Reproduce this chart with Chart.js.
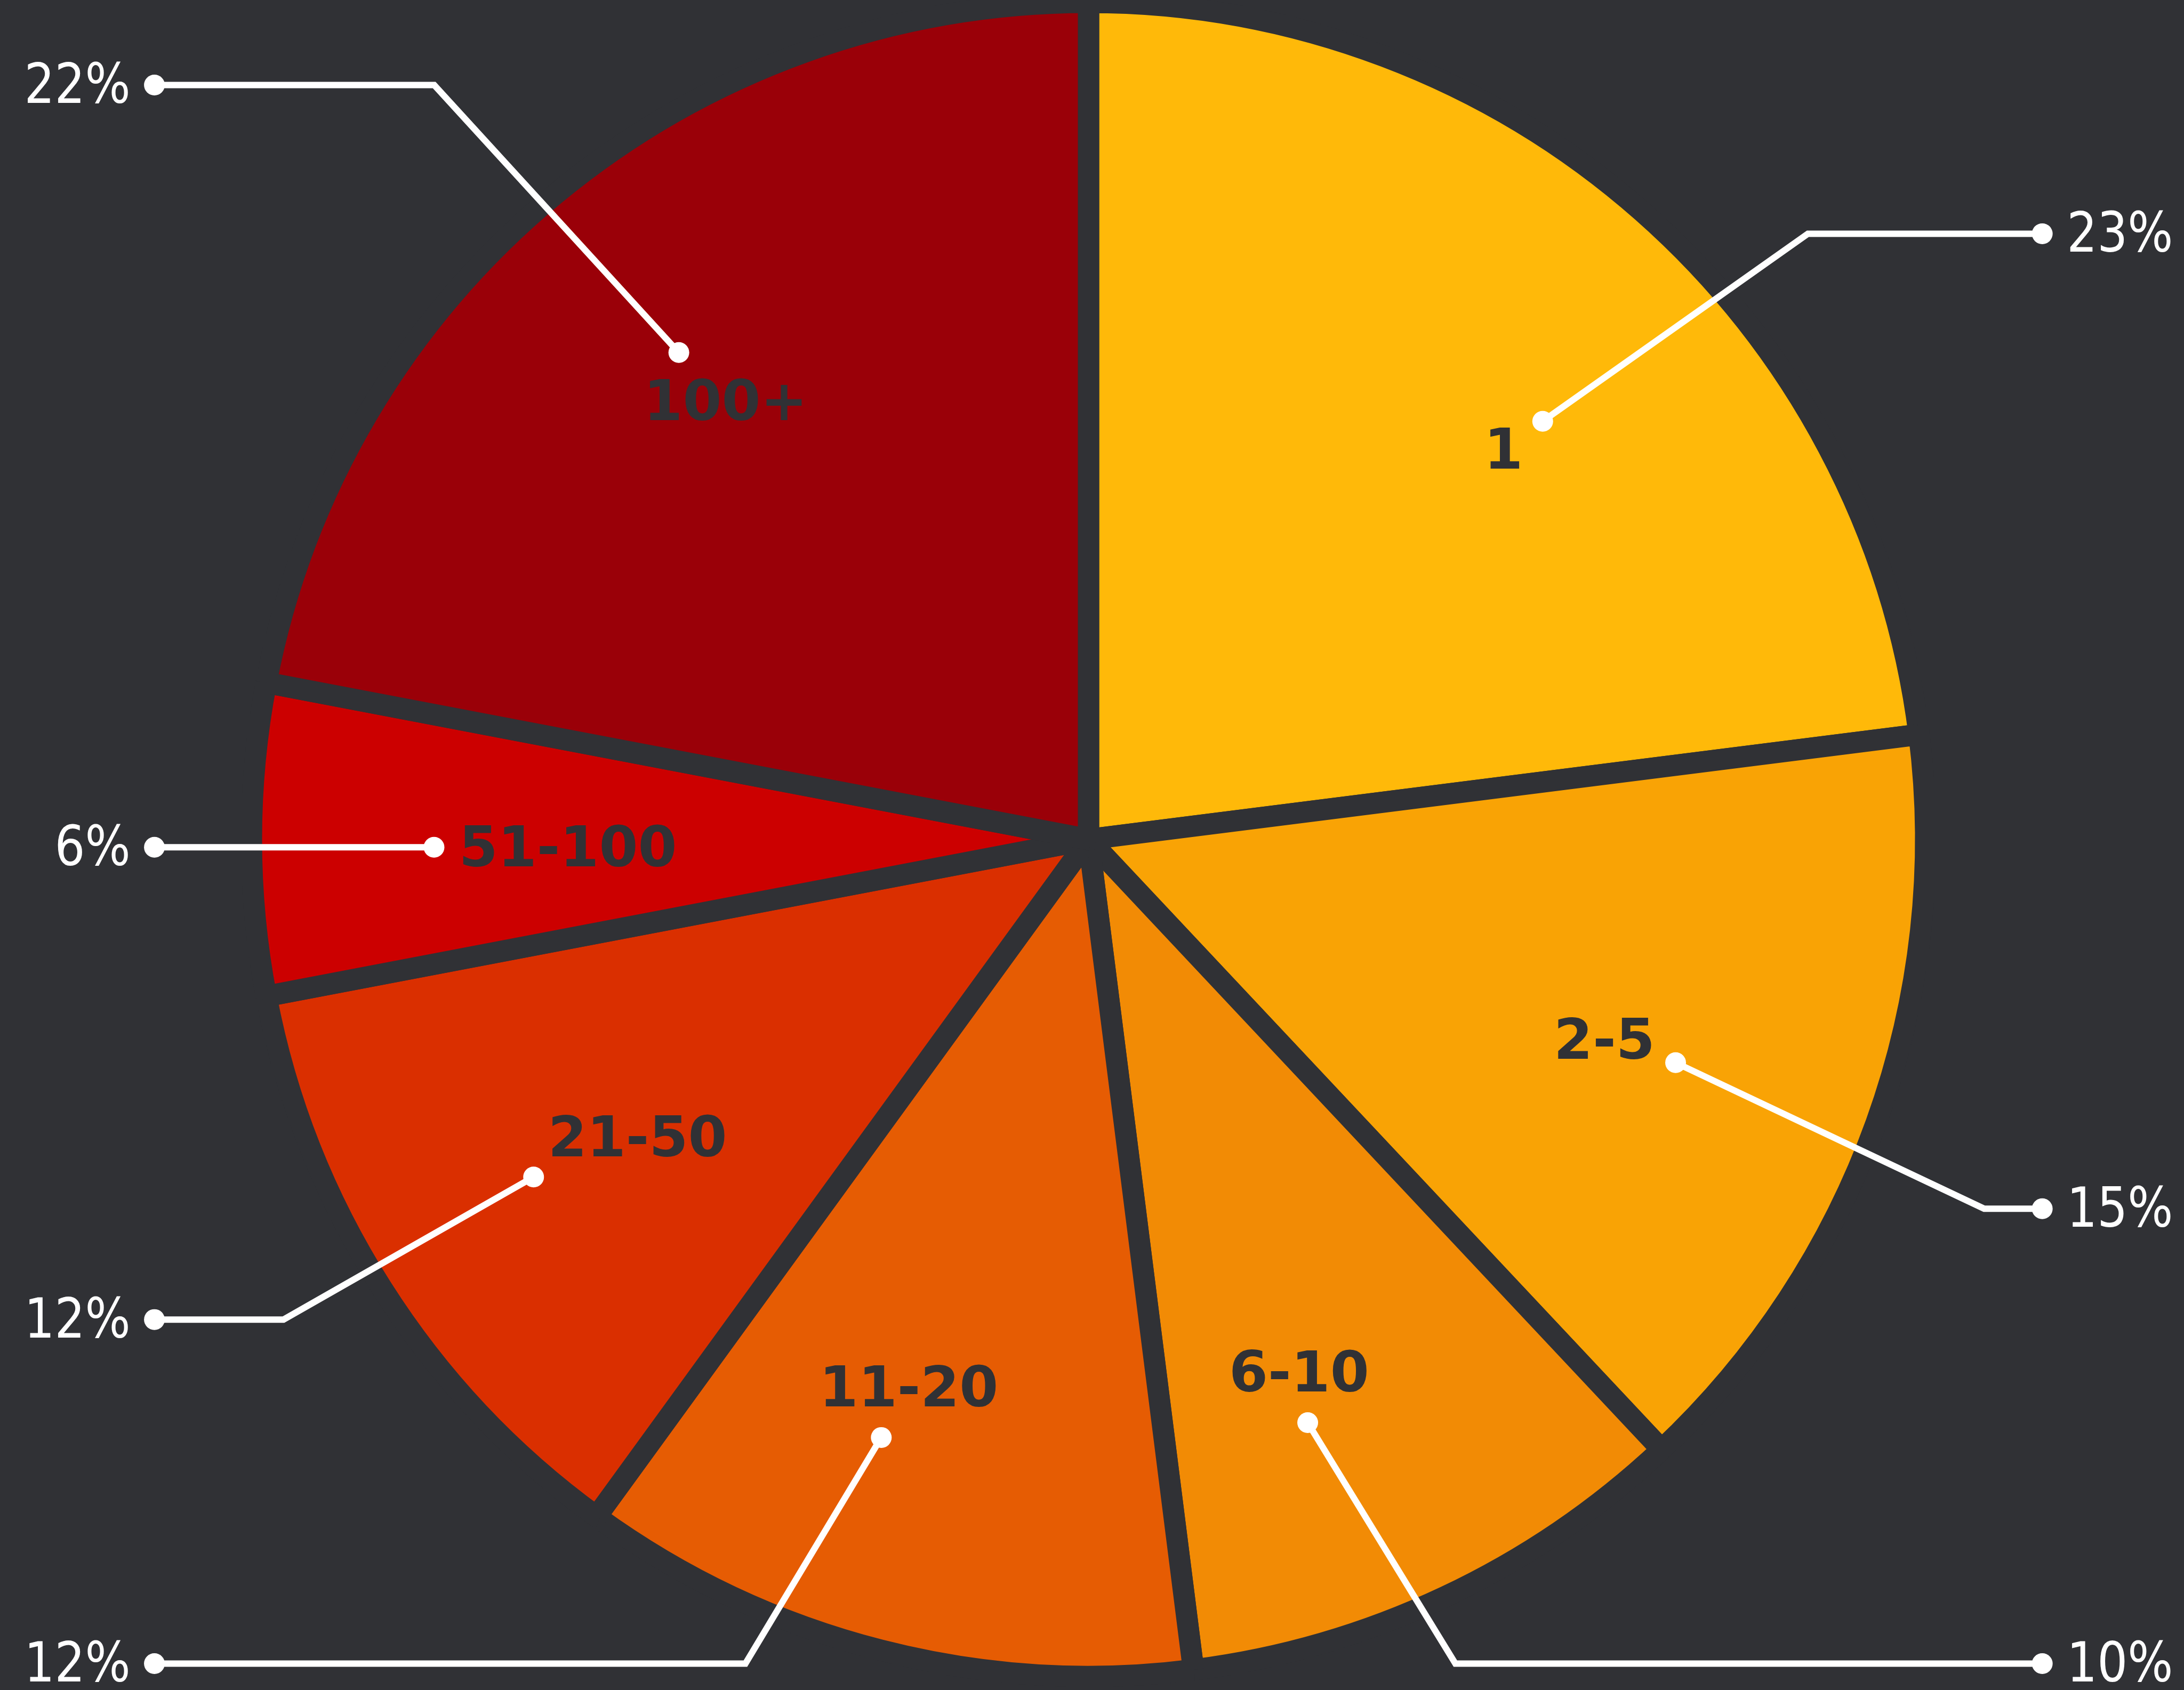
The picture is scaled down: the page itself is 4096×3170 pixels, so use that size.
<!DOCTYPE html>
<html>
<head>
<meta charset="utf-8">
<title>Share by size band</title>
<script src="https://cdn.jsdelivr.net/npm/chart.js@4.4.1/dist/chart.umd.min.js"></script>
<style>
  html, body { margin: 0; padding: 0; background: #303135; overflow: hidden; }
  #chart { display: block; }
</style>
</head>
<body>
<canvas id="chart" width="4096" height="3170"></canvas>
<script>
// size bands and their share (percent)
const categories = ['1', '2-5', '6-10', '11-20', '21-50', '51-100', '100+'];
const shares = [23, 15, 10, 12, 12, 6, 22];
const sliceColors = ['#FFB909', '#F9A305', '#F28B05', '#E65C03', '#DA2F00', '#CC0000', '#9A0008'];

const BG = '#303135';
const GAP = 40;

// hand-placed callouts: dot / tag = [fraction along the slice angle, fraction of radius],
// row = y of the horizontal run (share of height), elbow = x where it bends (share of width)
const callouts = [
  { dot: [0.572, 0.747], tag: [0.564, 0.690], side: 'right', row: 0.1383, elbow: 0.8278 },
  { dot: [0.519, 0.760], tag: [0.524, 0.669], side: 'right', row: 0.7152, elbow: 0.9085 },
  { dot: [0.628, 0.754], tag: [0.600, 0.692], side: 'right', row: 0.9844, elbow: 0.6664 },
  { dot: [0.609, 0.766], tag: [0.588, 0.696], side: 'left', row: 0.9844, elbow: 0.3413 },
  { dot: [0.525, 0.786], tag: [0.479, 0.653], side: 'left', row: 0.7808, elbow: 0.1298 },
  { dot: [0.468, 0.792], tag: [0.468, 0.630], side: 'left', row: null, elbow: null },
  { dot: [0.494, 0.770], tag: [0.501, 0.690], side: 'left', row: 0.0503, elbow: 0.1988 }
];
const END_LEFT = 0.0707, END_RIGHT = 0.9351;

const calloutPlugin = {
  id: 'callouts',
  afterDatasetsDraw(chart) {
    const ctx = chart.ctx;
    const W = chart.width, H = chart.height;
    const meta = chart.getDatasetMeta(0);
    const values = chart.data.datasets[0].data;

    meta.data.forEach((arc, i) => {
      const c = callouts[i];
      const { x, y, startAngle, endAngle, outerRadius } =
        arc.getProps(['x', 'y', 'startAngle', 'endAngle', 'outerRadius'], true);
      const R = outerRadius - GAP / 2;
      const at = ([f, k]) => {
        const a = startAngle + f * (endAngle - startAngle);
        return { x: x + Math.cos(a) * k * R, y: y + Math.sin(a) * k * R };
      };
      const p = at(c.dot);
      const rowY = c.row === null ? p.y : c.row * H;
      const elbowX = c.elbow === null ? p.x : c.elbow * W;
      const endX = (c.side === 'left' ? END_LEFT : END_RIGHT) * W;

      // leader line
      ctx.save();
      ctx.strokeStyle = '#ffffff';
      ctx.lineWidth = 12;
      ctx.lineJoin = 'miter';
      ctx.beginPath();
      ctx.moveTo(p.x, p.y);
      ctx.lineTo(elbowX, rowY);
      ctx.lineTo(endX, rowY);
      ctx.stroke();
      ctx.fillStyle = '#ffffff';
      [[p.x, p.y], [endX, rowY]].forEach(([dx, dy]) => {
        ctx.beginPath();
        ctx.arc(dx, dy, 19.5, 0, Math.PI * 2);
        ctx.fill();
      });
      ctx.restore();

      // band name inside the slice
      const t = at(c.tag);
      ctx.save();
      ctx.fillStyle = BG;
      ctx.font = 'bold 105px "DejaVu Sans"';
      ctx.textAlign = 'center';
      ctx.textBaseline = 'alphabetic';
      ctx.fillText(chart.data.labels[i], t.x, t.y + 0.3645 * 105);
      ctx.restore();

      // share at the end of the leader, narrow white type
      ctx.save();
      const tx = c.side === 'left' ? endX - 45 : endX + 46;
      ctx.translate(tx, rowY - 4);
      ctx.scale(0.87, 1);
      ctx.fillStyle = '#ffffff';
      ctx.font = '103px "DejaVu Sans"';
      ctx.textAlign = c.side === 'left' ? 'right' : 'left';
      ctx.textBaseline = 'alphabetic';
      ctx.fillText(values[i] + '%', 0, 0.3645 * 103);
      ctx.restore();
    });
  }
};

new Chart(document.getElementById('chart'), {
  type: 'pie',
  data: {
    labels: categories,
    datasets: [{
      data: shares,
      backgroundColor: sliceColors,
      borderColor: BG,
      borderWidth: GAP,
      hoverBorderWidth: GAP,
      hoverOffset: 0
    }]
  },
  options: {
    responsive: false,
    devicePixelRatio: 1,
    animation: false,
    events: [],
    radius: 1570,
    layout: { padding: { left: 0, top: 0, right: 13, bottom: 21 } },
    plugins: {
      legend: { display: false },
      tooltip: { enabled: false }
    }
  },
  plugins: [calloutPlugin]
});
</script>
</body>
</html>
